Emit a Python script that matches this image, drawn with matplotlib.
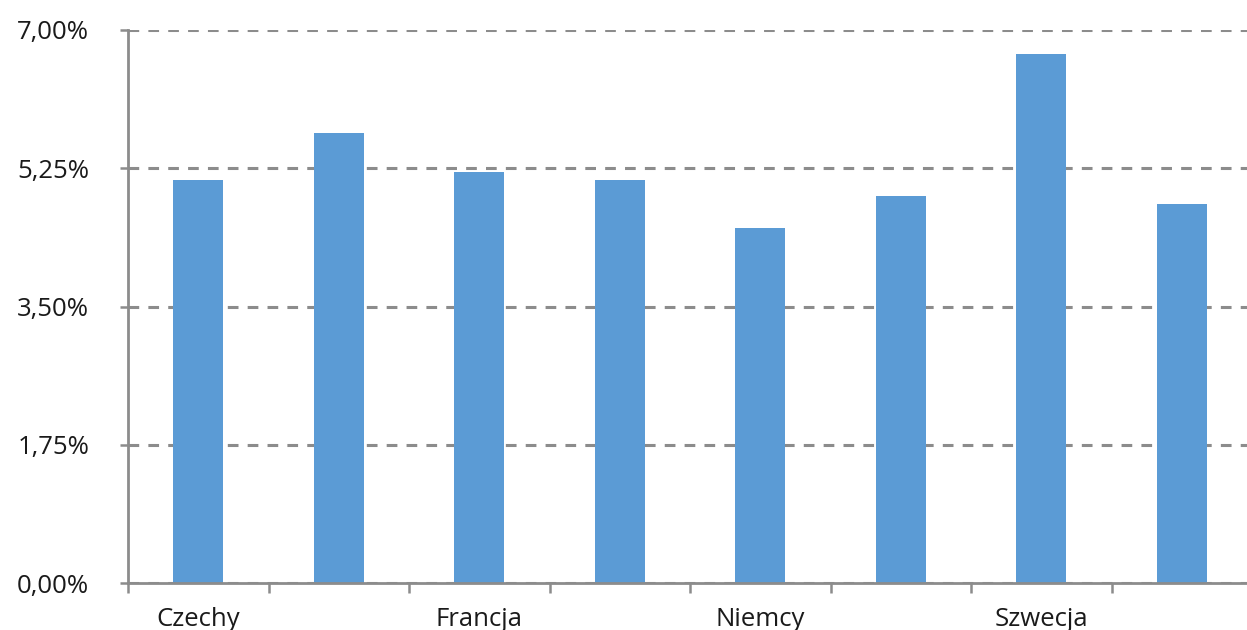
import matplotlib
matplotlib.use("Agg")
import matplotlib.pyplot as plt
from matplotlib.ticker import FixedLocator, FuncFormatter

# Category labels (every other category is labelled on the axis)
categories = ["Czechy", "", "Francja", "", "Niemcy", "", "Szwecja", ""]
values = [5.10, 5.70, 5.20, 5.10, 4.50, 4.90, 6.70, 4.80]
y_ticks = [0.0, 1.75, 3.50, 5.25, 7.00]

BAR_COLOR = "#5B9BD5"
AXIS_COLOR = "#8C8C8C"
TEXT_COLOR = "#1A1A1A"

plt.rcParams["font.family"] = ["Open Sans", "DejaVu Sans"]

fig = plt.figure(figsize=(12.47, 6.30), dpi=100)
ax = fig.add_axes([128 / 1247, 1 - 583 / 630, (1252 - 128) / 1247, (583 - 30) / 630])

x = list(range(len(values)))
ax.bar(x, values, width=0.356, color=BAR_COLOR, zorder=3)

ax.set_xlim(-0.5, len(values) - 0.5)
ax.set_ylim(0, 7.0)

# y axis: percent labels with decimal comma
ax.yaxis.set_major_locator(FixedLocator(y_ticks))
ax.yaxis.set_major_formatter(FuncFormatter(lambda v, p: f"{v:.2f}%".replace(".", ",")))
ax.grid(axis="y", color=AXIS_COLOR, linestyle=(0, (3.5, 3)), linewidth=2.2, zorder=1)

# x axis: boundary tick marks, labels centred under bars
ax.xaxis.set_major_locator(FixedLocator([i - 0.5 for i in range(len(values) + 1)]))
ax.xaxis.set_major_formatter(FuncFormatter(lambda v, p: ""))
ax.xaxis.set_minor_locator(FixedLocator(x))
ax.set_xticklabels(categories, minor=True)

ax.tick_params(axis="y", which="major", length=6, width=1.8, color=AXIS_COLOR,
               labelsize=18.5, labelcolor=TEXT_COLOR, pad=22)
ax.tick_params(axis="x", which="major", length=7, width=1.8, color=AXIS_COLOR)
ax.tick_params(axis="x", which="minor", length=0, labelsize=18.5,
               labelcolor=TEXT_COLOR, pad=17)

for side in ("top", "right"):
    ax.spines[side].set_visible(False)
for side in ("left", "bottom"):
    ax.spines[side].set_color(AXIS_COLOR)
    ax.spines[side].set_linewidth(2.0)
    ax.spines[side].set_zorder(4)

fig.savefig("out.png", dpi=100, facecolor="white")
